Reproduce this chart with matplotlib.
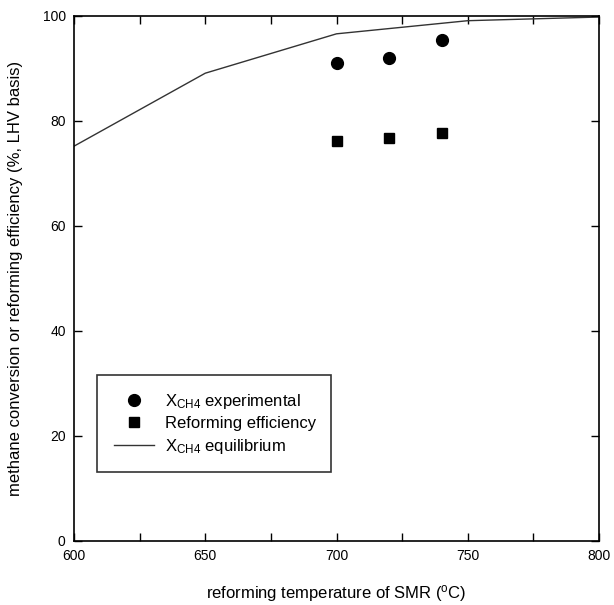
import matplotlib
matplotlib.use("Agg")
import matplotlib.pyplot as plt
from matplotlib.ticker import MultipleLocator

plt.rcParams['font.family'] = ['Liberation Sans', 'DejaVu Sans']
plt.rcParams['mathtext.fontset'] = 'custom'
plt.rcParams['mathtext.rm'] = 'Liberation Sans'
plt.rcParams['mathtext.it'] = 'Liberation Sans:italic'

# Experimental data
exp_temp = [700, 720, 740]
x_ch4_exp = [91.0, 92.0, 95.4]
reforming_eff = [76.2, 76.7, 77.7]

# Equilibrium methane conversion
eq_temp = [600, 650, 700, 750, 800]
x_ch4_eq = [75.2, 89.1, 96.6, 99.1, 99.8]

fig = plt.figure(figsize=(6.14, 6.05), dpi=100)
ax = fig.add_axes([0.1205, 0.1058, 0.8551, 0.8678])

ax.plot(exp_temp, x_ch4_exp, 'o', color='black', markersize=8.5,
        label=r'X$_{\mathrm{CH4}}$ experimental')
ax.plot(exp_temp, reforming_eff, 's', color='black', markersize=7.5,
        label='Reforming efficiency')
ax.plot(eq_temp, x_ch4_eq, '-', color='#333333', linewidth=1.0,
        label=r'X$_{\mathrm{CH4}}$ equilibrium')

ax.set_xlim(600, 800)
ax.set_ylim(0, 100)
ax.xaxis.set_major_locator(MultipleLocator(50))
ax.xaxis.set_minor_locator(MultipleLocator(25))
ax.yaxis.set_major_locator(MultipleLocator(20))

ax.tick_params(which='both', direction='in', top=True, right=True,
               labelsize=10, width=1.0)
ax.tick_params(which='major', length=6, pad=6)
ax.tick_params(which='minor', length=6)
for s in ax.spines.values():
    s.set_linewidth(1.2)

ax.set_xlabel(r'reforming temperature of SMR ($^{\mathrm{o}}$C)', fontsize=12, labelpad=14)
ax.set_ylabel('methane conversion or reforming efficiency (%, LHV basis)', fontsize=12, labelpad=14)

leg = ax.legend(loc='lower left', bbox_to_anchor=(0.044, 0.131, 0.446, 0.181),
                mode='expand', fontsize=12, frameon=True, fancybox=False,
                edgecolor='black', borderpad=1.0, borderaxespad=0,
                handlelength=2.4, labelspacing=0.32, handletextpad=0.7)
leg.get_frame().set_linewidth(1.2)

fig.savefig('out.png', dpi=100)
